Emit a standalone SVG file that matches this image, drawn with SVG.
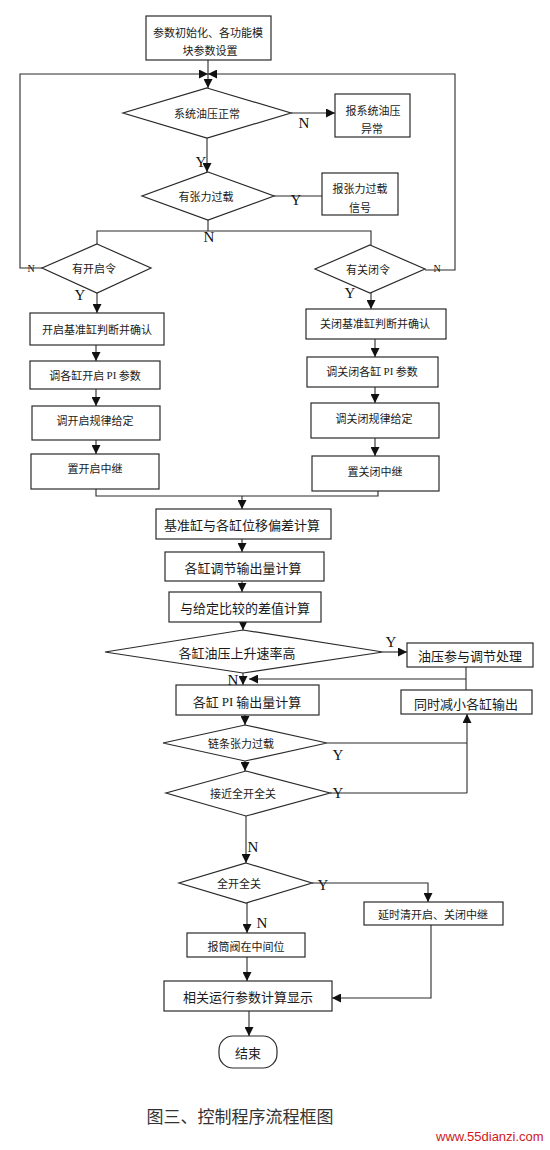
<svg xmlns="http://www.w3.org/2000/svg" width="550" height="1150" viewBox="0 0 550 1150">
<defs>
<style>
.bg{fill:#fff}
.box{fill:#fff;stroke:#2a2a2a;stroke-width:1.2}
.t{font-family:"Noto Sans CJK SC","Noto Sans CJK TC",sans-serif;fill:#1a1a1a;text-anchor:middle;dominant-baseline:central}
.s11{font-size:11px}
.s13{font-size:13px}
.pi{font-family:"Liberation Serif",serif}
.ln{fill:none;stroke:#2a2a2a;stroke-width:1.1}
.ar{marker-end:url(#ah)}
.lb{font-family:"Liberation Serif",serif;font-size:15px;fill:#111;text-anchor:middle;dominant-baseline:central}
.lbs{font-size:10px}
</style>
<marker id="ah" viewBox="0 0 10 10" refX="10" refY="5" markerWidth="9" markerHeight="9" markerUnits="userSpaceOnUse" orient="auto">
<path d="M0,0 L10,5 L0,10 Z" fill="#111"/>
</marker>
</defs>
<rect class="bg" x="0" y="0" width="550" height="1150"/>

<g id="connectors">
<line class="ln ar" x1="208" y1="60" x2="208" y2="88"/>
<polyline class="ln ar" points="42,268 20,268 20,74 208,74"/>
<polyline class="ln ar" points="425,270 455,270 455,74 208,74"/>
<line class="ln ar" x1="291" y1="113" x2="335" y2="113"/>
<line class="ln ar" x1="207" y1="138" x2="207" y2="172"/>
<line class="ln" x1="274" y1="196" x2="322" y2="196"/>
<line class="ln" x1="208" y1="220" x2="208" y2="231"/>
<polyline class="ln" points="97,244 97,231 371,231 371,245"/>
<line class="ln ar" x1="97" y1="293" x2="97" y2="313"/>
<line class="ln ar" x1="96" y1="345" x2="96" y2="361"/>
<line class="ln ar" x1="96" y1="389" x2="96" y2="406"/>
<line class="ln ar" x1="96" y1="440" x2="96" y2="454"/>
<line class="ln ar" x1="371" y1="293" x2="371" y2="309"/>
<line class="ln ar" x1="375" y1="339" x2="375" y2="357"/>
<line class="ln ar" x1="375" y1="387" x2="375" y2="403"/>
<line class="ln ar" x1="375" y1="438" x2="375" y2="456"/>
<polyline class="ln" points="96,489 96,496 378,496 378,491"/>
<line class="ln ar" x1="242" y1="496" x2="242" y2="509"/>
<line class="ln ar" x1="242" y1="539" x2="242" y2="552"/>
<line class="ln ar" x1="242" y1="581" x2="242" y2="592"/>
<line class="ln ar" x1="243" y1="622" x2="243" y2="630"/>
<line class="ln ar" x1="383" y1="652" x2="407" y2="652"/>
<line class="ln ar" x1="243" y1="673" x2="243" y2="685"/>
<line class="ln" x1="466" y1="667" x2="466" y2="690"/>
<line class="ln ar" x1="466" y1="679" x2="249" y2="679"/>
<line class="ln ar" x1="245" y1="715" x2="245" y2="725"/>
<line class="ln" x1="327" y1="743" x2="467" y2="743"/>
<line class="ln" x1="330" y1="793" x2="467" y2="793"/>
<line class="ln ar" x1="467" y1="793" x2="467" y2="714"/>
<line class="ln ar" x1="245" y1="761" x2="245" y2="771"/>
<line class="ln ar" x1="246" y1="816" x2="246" y2="863"/>
<polyline class="ln ar" points="312,883 428,883 428,902"/>
<line class="ln ar" x1="247" y1="903" x2="247" y2="933"/>
<line class="ln ar" x1="247" y1="957" x2="247" y2="981"/>
<polyline class="ln ar" points="431,925 431,998 332,998"/>
<line class="ln ar" x1="249" y1="1011" x2="249" y2="1036"/>
</g>

<g id="labels">
<text class="lb" x="304" y="123">N</text>
<text class="lb" x="201" y="162">Y</text>
<text class="lb" x="296" y="200">Y</text>
<text class="lb" x="209" y="237">N</text>
<text class="lb lbs" x="31" y="268">N</text>
<text class="lb lbs" x="437" y="268">N</text>
<text class="lb" x="80" y="295">Y</text>
<text class="lb" x="350" y="293">Y</text>
<text class="lb" x="391" y="642">Y</text>
<text class="lb" x="233" y="680">N</text>
<text class="lb" x="338" y="755">Y</text>
<text class="lb" x="338" y="793">Y</text>
<text class="lb" x="253" y="847">N</text>
<text class="lb" x="323" y="885">Y</text>
<text class="lb" x="262" y="923">N</text>
</g>

<g id="n-init"><rect class="box" x="146" y="16" width="125" height="44"/>
<text class="t s11" x="208" y="32">参数初始化、各功能模</text>
<text class="t s11" x="210" y="50">块参数设置</text></g>

<g id="d-oil"><polygon class="box" points="207,88 291,113 207,138 123,113"/>
<text class="t s11" x="207" y="113">系统油压正常</text></g>

<g id="n-oilalarm"><rect class="box" x="335" y="94" width="75" height="43"/>
<text class="t s11" x="373" y="110">报系统油压</text>
<text class="t s11" x="372" y="128">异常</text></g>

<g id="d-tension"><polygon class="box" points="208,172 274,196 208,220 142,196"/>
<text class="t s11" x="206" y="196">有张力过载</text></g>

<g id="n-tensionalarm"><rect class="box" x="322" y="173" width="76" height="42"/>
<text class="t s11" x="360" y="188">报张力过载</text>
<text class="t s11" x="360" y="207">信号</text></g>

<g id="d-open"><polygon class="box" points="97,244 151,268 97,293 42,268"/>
<text class="t s11" x="94" y="268">有开启令</text></g>

<g id="d-close"><polygon class="box" points="370,245 425,269 370,293 315,269"/>
<text class="t s11" x="368" y="269">有关闭令</text></g>

<g id="n-open1"><rect class="box" x="30" y="313" width="134" height="32"/>
<text class="t s11" x="97" y="329">开启基准缸判断并确认</text></g>
<g id="n-open2"><rect class="box" x="30" y="361" width="130" height="28"/>
<text class="t s11" x="95" y="375">调各缸开启 <tspan class="pi">PI</tspan> 参数</text></g>
<g id="n-open3"><rect class="box" x="32" y="406" width="128" height="34"/>
<text class="t s11" x="95" y="420">调开启规律给定</text></g>
<g id="n-open4"><rect class="box" x="31" y="454" width="128" height="35"/>
<text class="t s11" x="95" y="468">置开启中继</text></g>

<g id="n-close1"><rect class="box" x="306" y="309" width="140" height="30"/>
<text class="t s11" x="375" y="323">关闭基准缸判断并确认</text></g>
<g id="n-close2"><rect class="box" x="307" y="357" width="131" height="30"/>
<text class="t s11" x="372" y="371">调关闭各缸 <tspan class="pi">PI</tspan> 参数</text></g>
<g id="n-close3"><rect class="box" x="311" y="403" width="128" height="35"/>
<text class="t s11" x="374" y="418">调关闭规律给定</text></g>
<g id="n-close4"><rect class="box" x="312" y="456" width="127" height="35"/>
<text class="t s11" x="375" y="471">置关闭中继</text></g>

<g id="n-dev"><rect class="box" x="156" y="509" width="175" height="30"/>
<text class="t s13" x="242" y="524">基准缸与各缸位移偏差计算</text></g>
<g id="n-adj"><rect class="box" x="165" y="552" width="159" height="29"/>
<text class="t s13" x="243" y="567">各缸调节输出量计算</text></g>
<g id="n-cmp"><rect class="box" x="169" y="592" width="152" height="30"/>
<text class="t s13" x="245" y="607">与给定比较的差值计算</text></g>

<g id="d-rate"><polygon class="box" points="243,630 383,652 243,673 105,652"/>
<text class="t s13" x="237" y="652">各缸油压上升速率高</text></g>

<g id="n-oilproc"><rect class="box" x="407" y="643" width="126" height="24"/>
<text class="t s13" x="470" y="655">油压参与调节处理</text></g>
<g id="n-reduce"><rect class="box" x="401" y="690" width="131" height="24"/>
<text class="t s13" x="466" y="703">同时减小各缸输出</text></g>

<g id="n-pi"><rect class="box" x="176" y="685" width="143" height="30"/>
<text class="t s13" x="247" y="701">各缸 <tspan class="pi">PI</tspan> 输出量计算</text></g>

<g id="d-chain"><polygon class="box" points="245,725 327,743 245,761 163,743"/>
<text class="t s11" x="241" y="743">链条张力过载</text></g>
<g id="d-near"><polygon class="box" points="246,771 330,793 246,816 166,793"/>
<text class="t s11" x="243" y="793">接近全开全关</text></g>
<g id="d-full"><polygon class="box" points="246,863 312,883 246,903 179,883"/>
<text class="t s11" x="239" y="883">全开全关</text></g>

<g id="n-delay"><rect class="box" x="364" y="902" width="139" height="23"/>
<text class="t s11" x="433" y="914">延时清开启、关闭中继</text></g>
<g id="n-mid"><rect class="box" x="187" y="933" width="118" height="24"/>
<text class="t s11" x="246" y="946">报筒阀在中间位</text></g>
<g id="n-disp"><rect class="box" x="164" y="981" width="168" height="30"/>
<text class="t s13" x="248" y="996">相关运行参数计算显示</text></g>
<g id="n-end"><rect class="box" x="219" y="1036" width="58" height="32" rx="14" ry="14"/>
<text class="t s13" x="248" y="1052">结束</text></g>

<g id="caption">
<text x="240" y="1115" font-family="Noto Sans CJK SC, sans-serif" font-size="17" fill="#333" text-anchor="middle" dominant-baseline="central">图三、控制程序流程框图</text>
<text x="436" y="1136" font-family="Liberation Sans, Arial, sans-serif" font-size="13" fill="#d01818" dominant-baseline="central">www.55dianzi.com</text>
</g>
</svg>
